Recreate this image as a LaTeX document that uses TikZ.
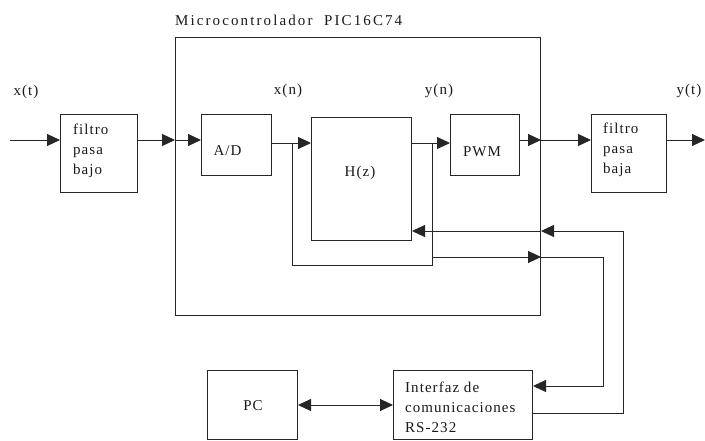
\documentclass[tikz,border=0pt]{standalone}
\usepackage{fontspec}
\setmainfont{Liberation Serif}[LetterSpace=7]
\usetikzlibrary{arrows.meta}
\begin{document}
\begin{tikzpicture}[x=1pt,y=-1pt,
  box/.style={draw=black!85, line width=1pt, inner sep=0pt, anchor=north west},
  txt/.style={inner sep=0pt, font=\fontsize{15}{20}\selectfont, text=black!90},
  ln/.style={draw=black!85, line width=1pt},
  arr/.style={-{Triangle[length=13pt,width=12pt]}},
  darr/.style={{Triangle[length=13pt,width=12pt]}-{Triangle[length=13pt,width=12pt]}}]
\useasboundingbox (0,0) rectangle (705,440);
% boxes
\node[box, minimum width=365pt, minimum height=278pt] (mc) at (175,37) {};
\node[box, minimum width=77pt, minimum height=78pt] (f1) at (60,114) {};
\node[box, minimum width=70pt, minimum height=61pt] (ad) at (201,114) {};
\node[box, minimum width=100pt, minimum height=123pt] (hz) at (311,117) {};
\node[box, minimum width=69pt, minimum height=61pt] (pwm) at (450,114) {};
\node[box, minimum width=75pt, minimum height=78pt] (f2) at (591,114) {};
\node[box, minimum width=90pt, minimum height=69pt] (pc) at (207,370) {};
\node[box, minimum width=139pt, minimum height=69pt] (rs) at (393,370) {};
% texts
\node[txt, anchor=west] (title) at (175,20) {\addfontfeature{LetterSpace=14}Microcontrolador\ \ PIC16C74};
\node[txt] (xt) at (26,92) {x(t)};
\node[txt] (xn) at (288,91) {x(n)};
\node[txt] (yn) at (439,91) {y(n)};
\node[txt] (yt) at (689,91) {y(t)};
\node[txt, anchor=west, align=left] (f1t) at (73,151) {filtro\\pasa\\bajo};
\node[txt, anchor=west, align=left] (f2t) at (603,150) {filtro\\pasa\\baja};
\node[txt] (adt) at (227.5,151) {A/D};
\node[txt] (hzt) at (360,173) {H(z)};
\node[txt] (pwmt) at (482,152) {PWM};
\node[txt] (pct) at (253,406) {PC};
\node[txt, anchor=west, align=left] (rst) at (405,407) {Interfaz de\\comunicaciones\\RS-232};
% coordinates
\coordinate (inL) at (10,140);
\coordinate (outR) at (705,140);
\coordinate (r1) at (0,143);
\coordinate (j1) at (292,143);
\coordinate (j2) at (432,143);
\coordinate (lb) at (0,265);
\coordinate (c257) at (0,257);
\coordinate (c386) at (0,386);
\coordinate (c413) at (0,413);
\coordinate (c231) at (0,231);
\coordinate (v1) at (603,257);
\coordinate (v2) at (623,231);
% connectors
\draw[ln,arr] (inL) -- (inL -| f1.west);
\draw[ln,arr] (inL -| f1.east) -- (inL -| mc.west);
\draw[ln,arr] (inL -| mc.west) -- (inL -| ad.west);
\draw[ln,arr] (r1 -| ad.east) -- (r1 -| hz.west);
\draw[ln,arr] (r1 -| hz.east) -- (r1 -| pwm.west);
\draw[ln,arr] (inL -| pwm.east) -- (inL -| mc.east);
\draw[ln,arr] (inL -| mc.east) -- (inL -| f2.west);
\draw[ln,arr] (inL -| f2.east) -- (outR);
\draw[ln] (j1) |- (lb -| j2) -- (j2);
\draw[ln,arr] (c257 -| j2) -- (c257 -| mc.east);
\draw[ln,arr] (c257 -| mc.east) -- (v1) |- (c386 -| rs.east);
\draw[ln,arr] (c413 -| rs.east) -| (v2) -- (c231 -| mc.east);
\draw[ln,arr] (c231 -| mc.east) -- (c231 -| hz.east);
\draw[ln,darr] (pc.east) -- (rs.west |- pc.east);
\end{tikzpicture}
\end{document}
